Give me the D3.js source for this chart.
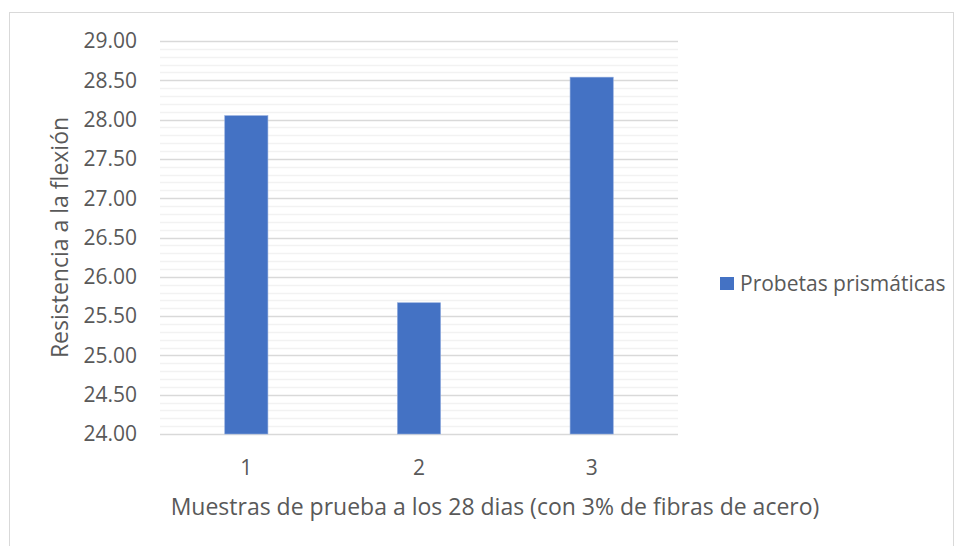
<!DOCTYPE html>
<html>
<head>
<meta charset="utf-8">
<script src="https://cdn.jsdelivr.net/npm/d3@7"></script>
<style>
  body { margin: 0; background: #fff; }
  text { font-family: "Open Sans", sans-serif; fill: #595959; }
</style>
</head>
<body>
<svg width="954" height="546"></svg>
<script>
const categories = ["1", "2", "3"];
const values = [28.05, 25.67, 28.54];
const yTicks = [24, 24.5, 25, 25.5, 26, 26.5, 27, 27.5, 28, 28.5, 29];
const seriesName = "Probetas prismáticas";
const yTitle = "Resistencia a la flexión";
const xTitle = "Muestras de prueba a los 28 dias (con 3% de fibras de acero)";

const svg = d3.select("svg");

// chart frame
svg.append("rect")
  .attr("x", 9.5).attr("y", 12.5)
  .attr("width", 944).attr("height", 540)
  .attr("fill", "#fff")
  .attr("stroke", "#d9d9d9");

const plotLeft = 160, plotRight = 678, plotTop = 41, plotBottom = 434;

const x = d3.scaleBand()
  .domain(categories)
  .range([plotLeft, plotRight])
  .paddingInner(0.75)
  .paddingOuter(0.375);

const y = d3.scaleLinear()
  .domain([24, 29])
  .range([plotBottom, plotTop]);

// minor gridlines
svg.append("g")
  .selectAll("line")
  .data(d3.range(240, 291).map(d => d / 10).filter(d => Math.round(d * 10) % 5 != 0))
  .enter().append("line")
  .attr("x1", plotLeft).attr("x2", plotRight)
  .attr("y1", d => Math.round(y(d)) + 0.5)
  .attr("y2", d => Math.round(y(d)) + 0.5)
  .attr("stroke", "#f2f2f2")
  .attr("stroke-width", 1.3);

// major gridlines
svg.append("g")
  .selectAll("line")
  .data(yTicks)
  .enter().append("line")
  .attr("x1", plotLeft).attr("x2", plotRight)
  .attr("y1", d => Math.round(y(d)) + 0.5)
  .attr("y2", d => Math.round(y(d)) + 0.5)
  .attr("stroke", "#d9d9d9")
  .attr("stroke-width", 1.3);

// y tick labels
svg.append("g")
  .selectAll("text")
  .data(yTicks)
  .enter().append("text")
  .attr("x", 137)
  .attr("y", d => y(d))
  .attr("dy", "0.35em")
  .attr("text-anchor", "end")
  .style("font-size", "21px")
  .text(d => d.toFixed(2));

// bars
svg.append("g")
  .selectAll("rect")
  .data(values)
  .enter().append("rect")
  .attr("x", (d, i) => x(categories[i]))
  .attr("y", d => y(d))
  .attr("width", x.bandwidth())
  .attr("height", d => y(24) - y(d))
  .attr("fill", "#4472c4")
  .attr("stroke", "#8faadc")
  .attr("stroke-width", 0.6);

// x tick labels
svg.append("g")
  .selectAll("text")
  .data(categories)
  .enter().append("text")
  .attr("x", d => x(d) + x.bandwidth() / 2)
  .attr("y", 468)
  .attr("dy", "0.35em")
  .attr("text-anchor", "middle")
  .style("font-size", "21px")
  .text(d => d);

// axis titles
svg.append("text")
  .attr("transform", "translate(60," + (plotTop + plotBottom) / 2 + ") rotate(-90)")
  .attr("dy", "0.35em")
  .attr("text-anchor", "middle")
  .style("font-size", "23px")
  .text(yTitle);

svg.append("text")
  .attr("x", 495)
  .attr("y", 507)
  .attr("dy", "0.35em")
  .attr("text-anchor", "middle")
  .style("font-size", "23px")
  .text(xTitle);

// legend
const legend = svg.append("g").attr("transform", "translate(720,277)");
legend.append("rect")
  .attr("width", 14).attr("height", 13)
  .attr("fill", "#4472c4");
legend.append("text")
  .attr("x", 20).attr("y", 6.5)
  .attr("dy", "0.35em")
  .style("font-size", "21px")
  .text(seriesName);
</script>
</body>
</html>
